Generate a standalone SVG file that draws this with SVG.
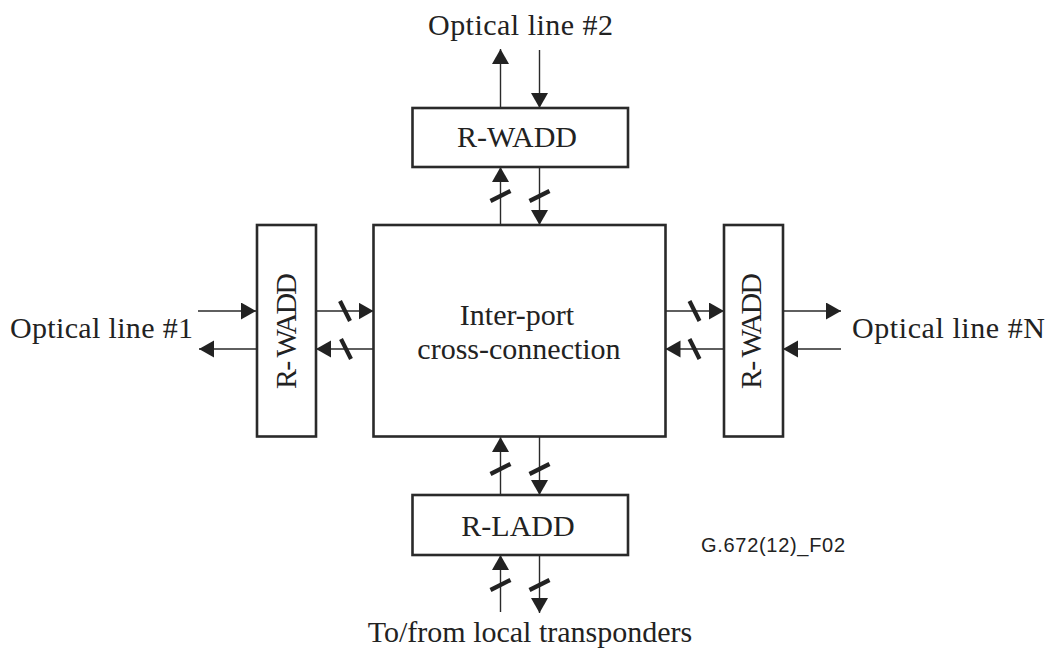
<svg xmlns="http://www.w3.org/2000/svg" width="1046" height="648" viewBox="0 0 1046 648">
  <defs>
    <marker id="arrow" markerUnits="userSpaceOnUse" markerWidth="16" markerHeight="18" refX="15" refY="8.5" orient="auto">
      <path d="M0,0 L15,8.5 L0,17 z" fill="#222"/>
    </marker>
    <!-- bundle slash marks for multi-fibre links -->
    <line id="slashV" x1="-10" y1="5" x2="10" y2="-5"/>
    <line id="slashH" x1="-5" y1="-10" x2="5" y2="10"/>
  </defs>
  <style>
    .box { fill: #fff; stroke: #2a2a2a; stroke-width: 2.6; }
    .lbl { font-family: "Liberation Serif", "Times New Roman", serif; font-size: 30px; fill: #222; }
    .ref { font-family: "Liberation Sans", Arial, sans-serif; font-size: 20px; fill: #222; }
    .link { stroke: #2a2a2a; stroke-width: 1.4; fill: none; marker-end: url(#arrow); }
    .slash { stroke: #222; stroke-width: 4.2; }
  </style>
  <rect width="1046" height="648" fill="#fff"/>

  <g id="connectors">
    <!-- top R-WADD -->
    <line class="link" x1="500.5" y1="108" x2="500.5" y2="49"/>
    <line class="link" x1="539.5" y1="50" x2="539.5" y2="108"/>
    <line class="link" x1="500.5" y1="225" x2="500.5" y2="167"/>
    <line class="link" x1="539.5" y1="167" x2="539.5" y2="225"/>
    <use class="slash" href="#slashV" x="500.5" y="196"/>
    <use class="slash" href="#slashV" x="539.5" y="196"/>
    <!-- left R-WADD -->
    <line class="link" x1="198" y1="311" x2="256" y2="311"/>
    <line class="link" x1="256" y1="349" x2="199" y2="349"/>
    <line class="link" x1="316" y1="311" x2="373.5" y2="311"/>
    <line class="link" x1="373.5" y1="349" x2="316" y2="349"/>
    <use class="slash" href="#slashH" x="345" y="311"/>
    <use class="slash" href="#slashH" x="346" y="349"/>
    <!-- right R-WADD -->
    <line class="link" x1="783" y1="311" x2="841" y2="311"/>
    <line class="link" x1="841" y1="349" x2="783" y2="349"/>
    <line class="link" x1="665.5" y1="311" x2="724" y2="311"/>
    <line class="link" x1="724" y1="349" x2="665.5" y2="349"/>
    <use class="slash" href="#slashH" x="694.5" y="311"/>
    <use class="slash" href="#slashH" x="694.5" y="349"/>
    <!-- bottom R-LADD -->
    <line class="link" x1="500.5" y1="495" x2="500.5" y2="437"/>
    <line class="link" x1="539.5" y1="437" x2="539.5" y2="495"/>
    <line class="link" x1="500.5" y1="612" x2="500.5" y2="555"/>
    <line class="link" x1="539.5" y1="555" x2="539.5" y2="613"/>
    <use class="slash" href="#slashV" x="500.5" y="469"/>
    <use class="slash" href="#slashV" x="539.5" y="469"/>
    <use class="slash" href="#slashV" x="500.5" y="585"/>
    <use class="slash" href="#slashV" x="539.5" y="585"/>
  </g>

  <g id="xconnect">
    <rect class="box" x="373.5" y="225" width="292" height="211.5"/>
    <text class="lbl" x="517" y="325" text-anchor="middle">Inter-port</text>
    <text class="lbl" x="519" y="359" text-anchor="middle">cross-connection</text>
  </g>

  <g id="wadd-top">
    <rect class="box" x="412.5" y="108" width="215.5" height="59"/>
    <text class="lbl" x="517" y="147" text-anchor="middle">R-WADD</text>
  </g>

  <g id="wadd-left">
    <rect class="box" x="257" y="225" width="59" height="211.5"/>
    <text class="lbl" transform="translate(296,331) rotate(-90)" text-anchor="middle" textLength="116">R- WADD</text>
  </g>

  <g id="wadd-right">
    <rect class="box" x="724" y="225" width="59" height="211.5"/>
    <text class="lbl" transform="translate(761,331) rotate(-90)" text-anchor="middle" textLength="116">R- WADD</text>
  </g>

  <g id="ladd">
    <rect class="box" x="412.5" y="495" width="215.5" height="60"/>
    <text class="lbl" x="518" y="536" text-anchor="middle">R-LADD</text>
  </g>

  <g id="labels">
    <text class="lbl" x="428" y="35" textLength="185">Optical line #2</text>
    <text class="lbl" x="10" y="338" textLength="183">Optical line #1</text>
    <text class="lbl" x="852" y="338" textLength="193">Optical line #N</text>
    <text class="lbl" x="530" y="642" text-anchor="middle">To/from local transponders</text>
    <text class="ref" x="701" y="552" textLength="144">G.672(12)_F02</text>
  </g>
</svg>
